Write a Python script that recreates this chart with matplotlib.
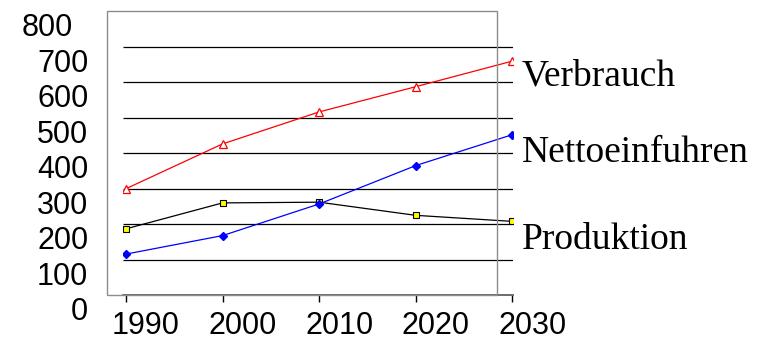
import matplotlib
matplotlib.use("Agg")
import matplotlib.pyplot as plt
import matplotlib.transforms as mtransforms
from matplotlib.patches import Rectangle

# series data
years = [1990, 2000, 2010, 2020, 2030]
verbrauch = [300, 426, 516, 587, 659]
nettoeinfuhren = [116, 168, 257, 365, 452]
produktion = [187, 260, 262, 225, 208]

y_ticks = [0, 100, 200, 300, 400, 500, 600, 700, 800]
grid_levels = [100, 200, 300, 400, 500, 600, 700]
series_names = ["Verbrauch", "Nettoeinfuhren", "Produktion"]

W, H = 767, 339
fig = plt.figure(figsize=(W / 100, H / 100), dpi=100)


def px(x0, y0, x1, y1):
    # pixel box (top-left origin) -> figure fraction rect
    return [x0 / W, 1 - y1 / H, (x1 - x0) / W, (y1 - y0) / H]


ax = fig.add_axes(px(123, 11, 513, 295.3))
ax.set_xlim(1989.69, 2030.07)
ax.set_ylim(0, 800)

# gray frame around the plot area
fig.patches.append(Rectangle((107 / W, 1 - 295.3 / H), (497 - 107) / W, (295.3 - 11) / H,
                             transform=fig.transFigure, fill=False,
                             edgecolor="#8c8c8c", linewidth=1.0, zorder=0))

ax.hlines(grid_levels, 1989.69, 2030.07, colors="black", linewidth=0.9, zorder=1)

ax.plot(years, verbrauch, color="red", linewidth=0.9, marker="^", markersize=5.2,
        markerfacecolor="white", markeredgecolor="red", markeredgewidth=0.9, zorder=3)
ax.plot(years, produktion, color="black", linewidth=0.9, marker="s", markersize=4.2,
        markerfacecolor="#ffff00", markeredgecolor="black", markeredgewidth=0.8, zorder=3)
ax.plot(years, nettoeinfuhren, color="blue", linewidth=0.9, marker="D", markersize=3.6,
        markerfacecolor="blue", markeredgecolor="blue", zorder=4)

for side in ["left", "right", "top"]:
    ax.spines[side].set_visible(False)
ax.spines["bottom"].set_color("#606060")
ax.spines["bottom"].set_linewidth(1.3)
ax.patch.set_visible(False)

ax.set_xticks(years)
ax.set_xticklabels([str(y) for y in years], fontsize=22, family="Liberation Sans")
ax.tick_params(axis="x", direction="out", length=5, width=1, color="black", pad=6)
ax.set_yticks(y_ticks)
ax.set_yticklabels([str(v) for v in y_ticks], fontsize=22, family="Liberation Sans")
ax.tick_params(axis="y", length=0, pad=25)

# shift the tick labels off their ticks
for lbl in ax.get_xticklabels():
    lbl.set_transform(lbl.get_transform() + mtransforms.ScaledTranslation(0.20, 0, fig.dpi_scale_trans))
for lbl in ax.get_yticklabels():
    dx = -0.15 if lbl.get_text() == "800" else 0
    lbl.set_transform(lbl.get_transform() + mtransforms.ScaledTranslation(dx, -0.135, fig.dpi_scale_trans))

# series names on the right
name_baselines = [85, 162, 249]
for name, yb in zip(series_names, name_baselines):
    fig.text(522 / W, 1 - yb / H, name, fontsize=27, family="Liberation Serif",
             ha="left", va="baseline")

fig.savefig("out.png", dpi=100)
